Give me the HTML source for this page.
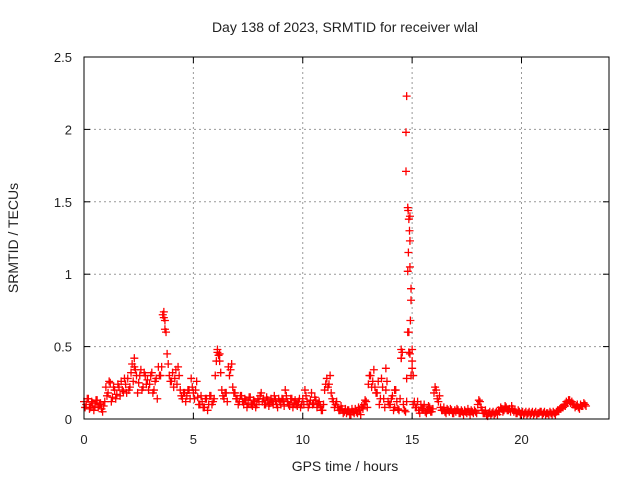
<!DOCTYPE html>
<html><head><meta charset="utf-8"><style>
body{margin:0;background:#fff;}
svg text{font-family:"Liberation Sans",sans-serif;fill:#222;}
</style></head><body>
<svg id="chart" width="640" height="480" viewBox="0 0 640 480" xmlns="http://www.w3.org/2000/svg">
<text x="345" y="32" font-size="14" text-anchor="middle">Day 138 of 2023, SRMTID for receiver wlal</text>
<text transform="translate(18,238) rotate(-90)" font-size="14" text-anchor="middle">SRMTID / TECUs</text>
<text x="345" y="471" font-size="14" text-anchor="middle">GPS time / hours</text>
<g id="grid"></g><g id="ticks"></g><g id="marks"></g>
<rect x="84" y="57" width="525" height="362" fill="none" stroke="#000" stroke-width="1"/>
</svg>
<script>
const xTicks=[0,5,10,15,20];
const yTicks=[0,0.5,1,1.5,2,2.5];
const yTickLabels=["0","0.5","1","1.5","2","2.5"];
const startHour=0, stepHours=0.1;
const tec=[.12,.10,.14,.08,.11,.09,.13,.10,.07,.09,
.22,.18,.25,.15,.20,.17,.22,.26,.19,.24,
.28,.22,.38,.42,.30,.25,.34,.22,.30,.27,
.24,.32,.20,.28,.36,.30,.72,.68,.45,.30,
.26,.22,.34,.36,.20,.14,.18,.16,.20,.28,
.18,.20,.15,.10,.12,.08,.14,.10,.16,.12,
.30,.46,.45,.20,.14,.18,.36,.34,.22,.18,
.14,.12,.16,.10,.13,.11,.15,.09,.12,.10,
.12,.18,.14,.10,.13,.11,.12,.16,.10,.14,
.10,.13,.20,.12,.09,.14,.11,.10,.12,.08,
.14,.20,.12,.10,.18,.11,.13,.10,.09,.06,
.20,.28,.24,.18,.12,.10,.08,.06,.07,.05,
.04,.06,.03,.05,.07,.04,.06,.09,.10,.12,
.24,.30,.26,.22,.18,.10,.28,.14,.20,.12,
.10,.16,.08,.12,.06,.42,.10,.05,.60,1.40,
.35,.12,.08,.06,.10,.07,.05,.06,.08,.05,
.18,.20,.12,.08,.06,.05,.07,.05,.06,.04,
.05,.06,.04,.05,.06,.04,.05,.06,.04,.05,
.10,.12,.06,.04,.03,.04,.03,.05,.04,.03,
.05,.07,.06,.08,.06,.05,.07,.06,.04,.05,
.04,.03,.05,.04,.03,.05,.04,.03,.04,.05,
.04,.03,.04,.05,.03,.04,.05,.06,.07,.08,
.09,.11,.13,.12,.10,.09,.08,.10,.09,.10];
const tecB=[.08,.14,.07,.12,.06,.13,.08,.11,.05,.12,
.16,.26,.12,.22,.14,.24,.16,.20,.28,.18,
.20,.32,.26,.34,.18,.30,.20,.32,.24,.20,
.30,.18,.26,.14,.30,.36,.70,.60,.38,.26,
.32,.28,.24,.30,.16,.18,.12,.20,.14,.22,
.14,.26,.10,.16,.08,.14,.06,.16,.10,.14,
.40,.44,.32,.16,.18,.12,.30,.38,.18,.14,
.10,.16,.12,.14,.08,.15,.10,.13,.08,.14,
.16,.12,.10,.15,.09,.14,.10,.13,.08,.12,
.14,.09,.16,.10,.14,.08,.13,.09,.14,.10,
.10,.16,.08,.13,.10,.15,.08,.12,.06,.10,
.24,.22,.30,.14,.08,.12,.06,.09,.04,.07,
.06,.03,.07,.04,.05,.08,.03,.07,.13,.08,
.30,.22,.34,.18,.26,.14,.22,.08,.26,.10,
.14,.06,.20,.07,.14,.46,.06,.12,.46,.30,
.10,.08,.12,.04,.07,.10,.04,.09,.05,.07,
.22,.14,.16,.06,.08,.04,.06,.07,.04,.06,
.07,.04,.06,.03,.05,.07,.03,.05,.06,.04,
.13,.08,.04,.06,.02,.05,.04,.03,.05,.06,
.08,.05,.09,.06,.07,.09,.05,.04,.06,.03,
.05,.04,.03,.05,.04,.03,.05,.04,.05,.03,
.05,.04,.03,.04,.05,.03,.06,.07,.08,.10,
.12,.13,.11,.10,.08,.10,.07,.09,.11,.09];
const extraTimes=[14.75,14.72,14.72,14.8,14.82,14.85,14.88,14.9,14.83,14.9,14.8,14.95,14.85,14.95,14.92,15.0,14.9,15.0,14.5,14.5,15.05,14.75,13.8,14.2,3.65,3.7,6.1,6.2,2.3];
const extraValues=[2.23,1.98,1.71,1.46,1.44,1.38,1.30,1.23,1.15,1.05,1.02,0.82,0.60,0.90,0.68,0.48,0.45,0.40,0.48,0.42,0.30,0.28,0.35,0.20,0.74,0.62,0.48,0.40,0.36];
const X=h=>84+h*21.875, Y=v=>419-v*144.8;
const NS="http://www.w3.org/2000/svg";
const grid=document.getElementById('grid'),ticks=document.getElementById('ticks'),marks=document.getElementById('marks');
function mk(tag,attrs,parent){const e=document.createElementNS(NS,tag);for(const k in attrs)e.setAttribute(k,attrs[k]);parent.appendChild(e);return e;}
xTicks.forEach(t=>{const x=X(t);
 if(t>0){const g=mk('line',{x1:x,x2:x,y1:57,y2:419,stroke:'#999','stroke-dasharray':'2,3'},grid);
 
 }
 const l=mk('text',{x:x,y:444,'font-size':13,'text-anchor':'middle'},ticks);l.textContent=t;
 
 
 mk('line',{x1:x,x2:x,y1:419,y2:413,stroke:'#000'},ticks);mk('line',{x1:x,x2:x,y1:57,y2:63,stroke:'#000'},ticks);});
yTicks.forEach((v,i)=>{const y=Y(v);
 if(v>0&&v<2.5){const g=mk('line',{x1:84,x2:609,y1:y,y2:y,stroke:'#999','stroke-dasharray':'2,3'},grid);
 
 }
 const l=mk('text',{x:72,y:y+5,'font-size':13,'text-anchor':'end'},ticks);l.textContent=yTickLabels[i];
 
 
 mk('line',{x1:84,x2:90,y1:y,y2:y,stroke:'#000'},ticks);mk('line',{x1:609,x2:603,y1:y,y2:y,stroke:'#000'},ticks);});
function plus(h,v){const x=X(h),y=Y(v);
 const p=mk('path',{d:`M${x-4},${y}h8M${x},${y-4}v8`,stroke:'#f00','stroke-width':1.3,fill:'none'},marks);
 
 }
tec.forEach((v,i)=>plus(startHour+i*stepHours,v));
tecB.forEach((v,i)=>plus(startHour+i*stepHours+0.05,v));
extraTimes.forEach((t,i)=>plus(t,extraValues[i]));
</script>
</body></html>
